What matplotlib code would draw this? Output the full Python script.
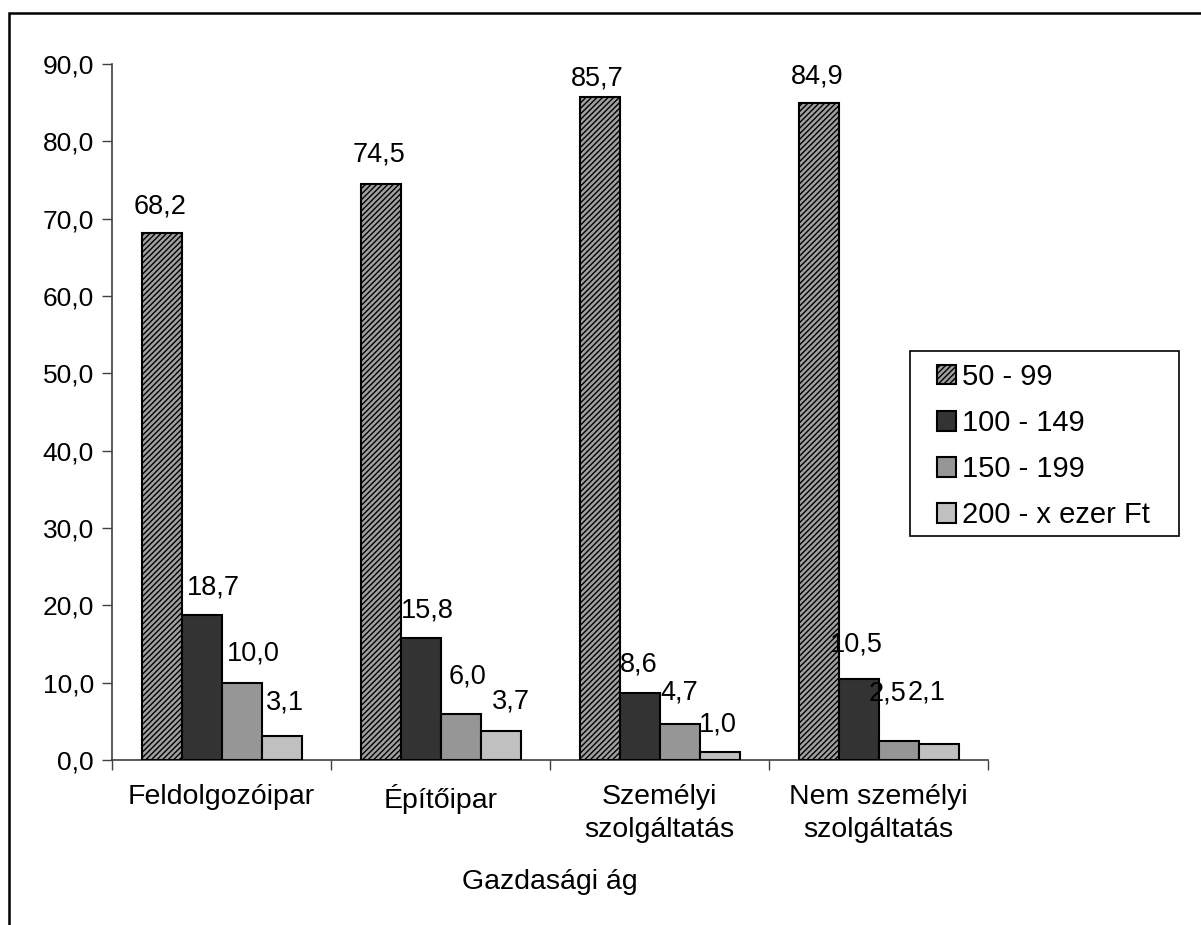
import matplotlib
matplotlib.use("Agg")
import matplotlib.pyplot as plt
from matplotlib.patches import Rectangle
from matplotlib.ticker import FuncFormatter, FixedLocator
import numpy as np

categories = ["Feldolgozóipar", "Építőipar", "Személyi\nszolgáltatás", "Nem személyi\nszolgáltatás"]
series_names = ["50 - 99", "100 - 149", "150 - 199", "200 - x ezer Ft"]
v_50_99 = [68.2, 74.5, 85.7, 84.9]
v_100_149 = [18.7, 15.8, 8.6, 10.5]
v_150_199 = [10.0, 6.0, 4.7, 2.5]
v_200_x = [3.1, 3.7, 1.0, 2.1]
y_ticks = [0, 10, 20, 30, 40, 50, 60, 70, 80, 90]
x_label = "Gazdasági ág"

series = [v_50_99, v_100_149, v_150_199, v_200_x]
colors = ["#a0a0a0", "#333333", "#969696", "#c0c0c0"]
hatches = ["//////", None, None, None]

# label nudges (pixels): horizontal shift from bar centre, gap between bar top and baseline
label_dx_px = [[-1, -1, -2, -1],
               [12, 7, -1, -2],
               [12, 7, 0, -11],
               [3, 10, -2, -12]]
label_gap_px = [[19, 22, 12, 20],
                [21, 20, 22, 27],
                [22, 30, 24, 40],
                [27, 23, 21, 44]]

plt.rcParams['font.family'] = ['Liberation Sans', 'DejaVu Sans']
plt.rcParams['hatch.color'] = '#333333'
plt.rcParams['hatch.linewidth'] = 1.0

fig = plt.figure(figsize=(12.01, 9.25), dpi=100)
ax = fig.add_axes([112/1201, 165/925, 876/1201, 696/925])

n = len(categories)
bw = 40/219
x = np.arange(n)
handles = []
for i, (vals, name) in enumerate(zip(series, series_names)):
    pos = x + (i - 1.5) * bw
    bars = ax.bar(pos, vals, width=bw, color=colors[i], edgecolor='black',
                  linewidth=1.5, hatch=hatches[i], label=name, zorder=3)
    handles.append(bars)
    for j, (xp, v) in enumerate(zip(pos, vals)):
        ax.annotate(f"{v:.1f}".replace('.', ','), (xp, v),
                    xytext=(label_dx_px[i][j] * 0.72, label_gap_px[i][j] * 0.72),
                    textcoords='offset points',
                    ha='center', va='baseline', fontsize=19.5)

ax.set_xlim(-0.5, n - 0.5)
ax.set_ylim(0, 90)
ax.yaxis.set_major_locator(FixedLocator(y_ticks))
ax.yaxis.set_major_formatter(FuncFormatter(lambda v, p: f"{v:.1f}".replace('.', ',')))
ax.tick_params(axis='y', labelsize=19, length=7, width=1, color='#404040', pad=6)

ax.xaxis.set_major_locator(FixedLocator(np.arange(n + 1) - 0.5))
ax.xaxis.set_major_formatter(FuncFormatter(lambda v, p: ""))
ax.xaxis.set_minor_locator(FixedLocator(x))
ax.set_xticklabels(categories, minor=True, fontsize=20.5, linespacing=1.35)
ax.tick_params(axis='x', which='major', length=7, width=1, color='#404040')
ax.tick_params(axis='x', which='minor', length=0, pad=17)

for s in ['top', 'right']:
    ax.spines[s].set_visible(False)
for s in ['left', 'bottom']:
    ax.spines[s].set_color('#404040')
    ax.spines[s].set_linewidth(1.2)

fig.text(550/1201, 1 - 882/925, x_label, ha='center', va='center', fontsize=20.5)

leg = ax.legend(handles=handles, labels=series_names, loc='upper left',
                bbox_to_anchor=(937/1201, 1 - 363/925),
                bbox_transform=fig.transFigure, fontsize=21, frameon=False,
                handlelength=0.65, handleheight=0.65,
                handletextpad=0.22, labelspacing=0.62, borderpad=0,
                borderaxespad=0)
fig.patches.append(Rectangle((910/1201, 1 - 536/925), 269/1201, 185/925,
                             transform=fig.transFigure, fill=False,
                             edgecolor='black', linewidth=1.2))

fig.patches.append(Rectangle((9/1201, -0.2), 1.5, 1 - 13/925 + 0.2,
                             transform=fig.transFigure, fill=False,
                             edgecolor='black', linewidth=1.8))

fig.savefig("out.png", dpi=100, facecolor='white')
